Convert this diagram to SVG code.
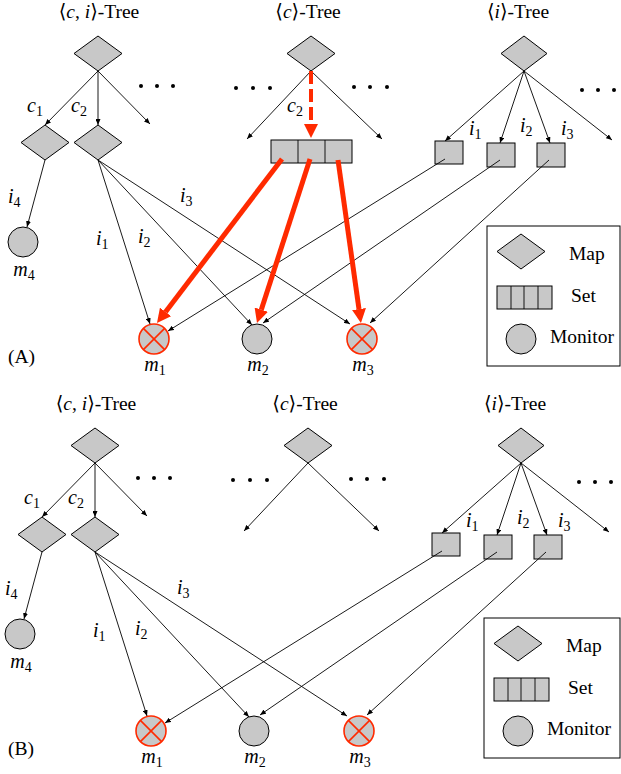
<svg xmlns="http://www.w3.org/2000/svg" width="621" height="774" viewBox="0 0 621 774">
<defs>
<style>
.nd{fill:#c8c8c8;stroke:#000;stroke-width:1}
.x{fill:#c8c8c8;stroke:#ff2a00;stroke-width:1.6}
.xl{stroke:#ff2a00;stroke-width:1.6}
.e{stroke:#000;stroke-width:0.9;fill:none;marker-end:url(#ah)}
.el{stroke:#000;stroke-width:0.9;fill:none}
.r{stroke:#ff2a00;stroke-width:5;fill:none;marker-end:url(#rh)}
.rd{stroke:#ff2a00;stroke-width:4;fill:none;stroke-dasharray:13 5;marker-end:url(#rh)}
.t{font-family:"Liberation Serif","DejaVu Serif",serif;font-size:19.5px;fill:#000}
.l{font-family:"Liberation Serif","DejaVu Serif",serif;font-size:20px;font-style:italic;fill:#000}
.s{font-size:14px;font-style:normal}
.g{font-family:"Liberation Serif","DejaVu Serif",serif;font-size:19.5px;fill:#000}
.dot{fill:#000}
</style>
<marker id="ah" viewBox="0 0 6 5" refX="6" refY="2.5" markerWidth="6" markerHeight="5" markerUnits="userSpaceOnUse" orient="auto">
<path d="M0,0 L6,2.5 L0,5 z" fill="#000"/>
</marker>
<marker id="rh" viewBox="0 0 14 14" refX="0" refY="7" markerWidth="14" markerHeight="14" markerUnits="userSpaceOnUse" orient="auto">
<path d="M0,0 L14,7 L0,14 z" fill="#ff2a00"/>
</marker>
</defs>
<rect width="621" height="774" fill="#fff"/>

<!-- ================= PANEL A ================= -->
<g id="panelA">
<text class="t" x="99" y="18" text-anchor="middle">⟨<tspan font-style="italic">c</tspan>, <tspan font-style="italic">i</tspan>⟩-Tree</text>
<text class="t" x="308" y="18" text-anchor="middle">⟨<tspan font-style="italic">c</tspan>⟩-Tree</text>
<text class="t" x="518" y="18" text-anchor="middle">⟨<tspan font-style="italic">i</tspan>⟩-Tree</text>
<text class="g" x="8" y="363">(A)</text>

<g id="A-ci-root"><polygon class="nd" points="98,36 122,53.5 98,71 74,53.5"/></g>
<g id="A-ci-c1"><polygon class="nd" points="45,125 69,142.5 45,160 21,142.5"/></g>
<g id="A-ci-c2"><polygon class="nd" points="98,125 122,142.5 98,160 74,142.5"/></g>
<g id="A-m4"><circle class="nd" cx="23" cy="242" r="15"/></g>
<g id="A-c-root"><polygon class="nd" points="311,36 335,53.5 311,71 287,53.5"/></g>
<g id="A-c-set">
<rect class="nd" x="271" y="140" width="81" height="23"/>
<line class="el" x1="298" y1="140" x2="298" y2="163"/>
<line class="el" x1="325" y1="140" x2="325" y2="163"/>
</g>
<g id="A-i-root"><polygon class="nd" points="524,36 547,53.5 524,71 501,53.5"/></g>
<g id="A-i-s1"><rect class="nd" x="435" y="141" width="28" height="23"/></g>
<g id="A-i-s2"><rect class="nd" x="487" y="143" width="28" height="24"/></g>
<g id="A-i-s3"><rect class="nd" x="537" y="143" width="28" height="24"/></g>
<g id="A-m1"><circle class="x" cx="154" cy="339" r="15"/><line class="xl" x1="143.4" y1="328.4" x2="164.6" y2="349.6"/><line class="xl" x1="164.6" y1="328.4" x2="143.4" y2="349.6"/></g>
<g id="A-m2"><circle class="nd" cx="257" cy="339" r="15"/></g>
<g id="A-m3"><circle class="x" cx="362" cy="339" r="15"/><line class="xl" x1="351.4" y1="328.4" x2="372.6" y2="349.6"/><line class="xl" x1="372.6" y1="328.4" x2="351.4" y2="349.6"/></g>

<g id="A-legend">
<rect x="487" y="226" width="133" height="140" fill="#fff" stroke="#000" stroke-width="1"/>
<polygon class="nd" points="521,234 545,251.5 521,269 497,251.5"/>
<rect class="nd" x="497" y="286" width="55" height="23"/>
<line class="el" x1="511" y1="286" x2="511" y2="309"/>
<line class="el" x1="524" y1="286" x2="524" y2="309"/>
<line class="el" x1="538" y1="286" x2="538" y2="309"/>
<circle class="nd" cx="521" cy="339" r="15"/>
<text class="g" x="569" y="260">Map</text>
<text class="g" x="571" y="302">Set</text>
<text class="g" x="550" y="343">Monitor</text>
</g>

<g id="A-connectors">
<line class="e" x1="98" y1="71" x2="45" y2="125"/>
<line class="e" x1="98" y1="71" x2="98" y2="125"/>
<line class="e" x1="98" y1="71" x2="150" y2="124"/>
<line class="e" x1="45" y1="160" x2="27" y2="227"/>
<line class="e" x1="98" y1="160" x2="150" y2="324"/>
<line class="e" x1="98" y1="160" x2="252" y2="325"/>
<line class="e" x1="98" y1="160" x2="350" y2="324"/>
<line class="e" x1="311" y1="71" x2="247" y2="139"/>
<line class="e" x1="311" y1="71" x2="382" y2="139"/>
<line class="e" x1="524" y1="71" x2="445" y2="141"/>
<line class="e" x1="524" y1="71" x2="500" y2="143"/>
<line class="e" x1="524" y1="71" x2="550" y2="143"/>
<line class="e" x1="524" y1="71" x2="612" y2="140"/>
<line class="e" x1="445" y1="159" x2="168" y2="331"/>
<line class="e" x1="500" y1="160" x2="263" y2="323"/>
<line class="e" x1="549" y1="160" x2="370" y2="323"/>
<line class="rd" x1="311" y1="71" x2="311" y2="124"/>
<line class="r" x1="282" y1="159" x2="165.5" y2="311.9"/>
<line class="r" x1="310" y1="159" x2="261.3" y2="309.7"/>
<line class="r" x1="338" y1="160" x2="359" y2="309.1"/>
</g>

<g id="A-labels">
<text class="l" x="27" y="112">c<tspan class="s" dy="4">1</tspan></text>
<text class="l" x="71" y="112">c<tspan class="s" dy="4">2</tspan></text>
<text class="l" x="8" y="203">i<tspan class="s" dy="4">4</tspan></text>
<text class="l" x="24" y="276" text-anchor="middle">m<tspan class="s" dy="4">4</tspan></text>
<text class="l" x="96" y="245">i<tspan class="s" dy="4">1</tspan></text>
<text class="l" x="138" y="243">i<tspan class="s" dy="4">2</tspan></text>
<text class="l" x="180" y="202">i<tspan class="s" dy="4">3</tspan></text>
<text class="l" x="287" y="112">c<tspan class="s" dy="4">2</tspan></text>
<text class="l" x="469" y="135">i<tspan class="s" dy="4">1</tspan></text>
<text class="l" x="520" y="132">i<tspan class="s" dy="4">2</tspan></text>
<text class="l" x="561" y="135">i<tspan class="s" dy="4">3</tspan></text>
<text class="l" x="155" y="371" text-anchor="middle">m<tspan class="s" dy="4">1</tspan></text>
<text class="l" x="258" y="371" text-anchor="middle">m<tspan class="s" dy="4">2</tspan></text>
<text class="l" x="363" y="371" text-anchor="middle">m<tspan class="s" dy="4">3</tspan></text>
</g>

<g id="A-dots">
<circle class="dot" cx="141" cy="86" r="2"/><circle class="dot" cx="157" cy="86" r="2"/><circle class="dot" cx="173" cy="86" r="2"/>
<circle class="dot" cx="236" cy="88" r="2"/><circle class="dot" cx="253" cy="88" r="2"/><circle class="dot" cx="270" cy="88" r="2"/>
<circle class="dot" cx="354" cy="87" r="2"/><circle class="dot" cx="370" cy="87" r="2"/><circle class="dot" cx="387" cy="87" r="2"/>
<circle class="dot" cx="582" cy="90" r="2"/><circle class="dot" cx="598" cy="90" r="2"/><circle class="dot" cx="614" cy="90" r="2"/>
</g>
</g>

<!-- ================= PANEL B ================= -->
<g id="panelB" transform="translate(-3,392)">
<text class="t" x="99" y="18" text-anchor="middle">⟨<tspan font-style="italic">c</tspan>, <tspan font-style="italic">i</tspan>⟩-Tree</text>
<text class="t" x="308" y="18" text-anchor="middle">⟨<tspan font-style="italic">c</tspan>⟩-Tree</text>
<text class="t" x="518" y="18" text-anchor="middle">⟨<tspan font-style="italic">i</tspan>⟩-Tree</text>
<text class="g" x="11" y="363">(B)</text>

<g id="B-ci-root"><polygon class="nd" points="98,36 122,53.5 98,71 74,53.5"/></g>
<g id="B-ci-c1"><polygon class="nd" points="45,125 69,142.5 45,160 21,142.5"/></g>
<g id="B-ci-c2"><polygon class="nd" points="98,125 122,142.5 98,160 74,142.5"/></g>
<g id="B-m4"><circle class="nd" cx="23" cy="242" r="15"/></g>
<g id="B-c-root"><polygon class="nd" points="311,36 335,53.5 311,71 287,53.5"/></g>
<g id="B-i-root"><polygon class="nd" points="524,36 547,53.5 524,71 501,53.5"/></g>
<g id="B-i-s1"><rect class="nd" x="435" y="141" width="28" height="23"/></g>
<g id="B-i-s2"><rect class="nd" x="487" y="143" width="28" height="24"/></g>
<g id="B-i-s3"><rect class="nd" x="537" y="143" width="28" height="24"/></g>
<g id="B-m1"><circle class="x" cx="154" cy="339" r="15"/><line class="xl" x1="143.4" y1="328.4" x2="164.6" y2="349.6"/><line class="xl" x1="164.6" y1="328.4" x2="143.4" y2="349.6"/></g>
<g id="B-m2"><circle class="nd" cx="257" cy="339" r="15"/></g>
<g id="B-m3"><circle class="x" cx="362" cy="339" r="15"/><line class="xl" x1="351.4" y1="328.4" x2="372.6" y2="349.6"/><line class="xl" x1="372.6" y1="328.4" x2="351.4" y2="349.6"/></g>

<g id="B-legend">
<rect x="487" y="226" width="136" height="140" fill="#fff" stroke="#000" stroke-width="1"/>
<polygon class="nd" points="521,234 545,251.5 521,269 497,251.5"/>
<rect class="nd" x="497" y="286" width="55" height="23"/>
<line class="el" x1="511" y1="286" x2="511" y2="309"/>
<line class="el" x1="524" y1="286" x2="524" y2="309"/>
<line class="el" x1="538" y1="286" x2="538" y2="309"/>
<circle class="nd" cx="521" cy="339" r="15"/>
<text class="g" x="569" y="260">Map</text>
<text class="g" x="571" y="302">Set</text>
<text class="g" x="550" y="343">Monitor</text>
</g>

<g id="B-connectors">
<line class="e" x1="98" y1="71" x2="45" y2="125"/>
<line class="e" x1="98" y1="71" x2="98" y2="125"/>
<line class="e" x1="98" y1="71" x2="150" y2="124"/>
<line class="e" x1="45" y1="160" x2="27" y2="227"/>
<line class="e" x1="98" y1="160" x2="150" y2="324"/>
<line class="e" x1="98" y1="160" x2="252" y2="325"/>
<line class="e" x1="98" y1="160" x2="350" y2="324"/>
<line class="e" x1="311" y1="71" x2="247" y2="139"/>
<line class="e" x1="311" y1="71" x2="382" y2="139"/>
<line class="e" x1="524" y1="71" x2="445" y2="141"/>
<line class="e" x1="524" y1="71" x2="500" y2="143"/>
<line class="e" x1="524" y1="71" x2="550" y2="143"/>
<line class="e" x1="524" y1="71" x2="612" y2="140"/>
<line class="e" x1="445" y1="159" x2="168" y2="331"/>
<line class="e" x1="500" y1="160" x2="263" y2="323"/>
<line class="e" x1="549" y1="160" x2="370" y2="323"/>
</g>

<g id="B-labels">
<text class="l" x="27" y="112">c<tspan class="s" dy="4">1</tspan></text>
<text class="l" x="71" y="112">c<tspan class="s" dy="4">2</tspan></text>
<text class="l" x="8" y="203">i<tspan class="s" dy="4">4</tspan></text>
<text class="l" x="24" y="276" text-anchor="middle">m<tspan class="s" dy="4">4</tspan></text>
<text class="l" x="96" y="245">i<tspan class="s" dy="4">1</tspan></text>
<text class="l" x="138" y="243">i<tspan class="s" dy="4">2</tspan></text>
<text class="l" x="180" y="202">i<tspan class="s" dy="4">3</tspan></text>
<text class="l" x="469" y="135">i<tspan class="s" dy="4">1</tspan></text>
<text class="l" x="520" y="132">i<tspan class="s" dy="4">2</tspan></text>
<text class="l" x="561" y="135">i<tspan class="s" dy="4">3</tspan></text>
<text class="l" x="155" y="371" text-anchor="middle">m<tspan class="s" dy="4">1</tspan></text>
<text class="l" x="258" y="371" text-anchor="middle">m<tspan class="s" dy="4">2</tspan></text>
<text class="l" x="363" y="371" text-anchor="middle">m<tspan class="s" dy="4">3</tspan></text>
</g>

<g id="B-dots">
<circle class="dot" cx="141" cy="86" r="2"/><circle class="dot" cx="157" cy="86" r="2"/><circle class="dot" cx="173" cy="86" r="2"/>
<circle class="dot" cx="236" cy="88" r="2"/><circle class="dot" cx="253" cy="88" r="2"/><circle class="dot" cx="270" cy="88" r="2"/>
<circle class="dot" cx="354" cy="87" r="2"/><circle class="dot" cx="370" cy="87" r="2"/><circle class="dot" cx="387" cy="87" r="2"/>
<circle class="dot" cx="582" cy="90" r="2"/><circle class="dot" cx="598" cy="90" r="2"/><circle class="dot" cx="614" cy="90" r="2"/>
</g>
</g>
</svg>
